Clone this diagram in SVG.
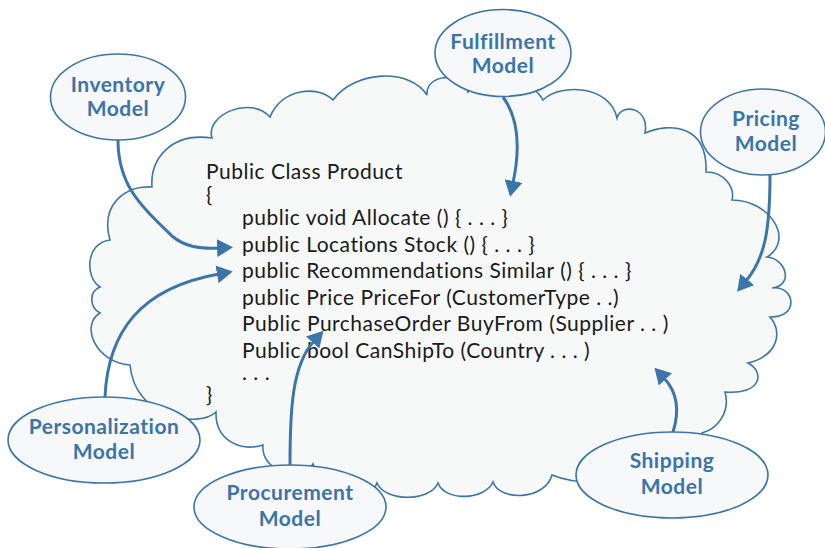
<svg xmlns="http://www.w3.org/2000/svg" width="825" height="548" viewBox="0 0 825 548">
<defs>
<style>
.cloud{fill:#f7f9f9;stroke:#3b75a9;stroke-width:1.6}
.node ellipse{fill:#f6f8f9;stroke:#3b75a9;stroke-width:1.6}
.lbl{font-family:Lato,"Noto Sans",sans-serif;font-weight:bold;font-size:21px;letter-spacing:0.5px;fill:#3a74a8;text-anchor:middle}
.code{font-family:Lato,"Noto Sans",sans-serif;font-size:21px;letter-spacing:0.5px;fill:#1a1a1a}
.conn path{fill:none;stroke:#3b75a9;stroke-width:3}
</style>
<marker id="ah" markerUnits="userSpaceOnUse" viewBox="0 0 16 18" markerWidth="16" markerHeight="18" refX="2" refY="9" orient="auto">
<path d="M0,0 L16,9 L0,18 z" fill="#3b75a9"/>
</marker>
</defs>
<rect width="825" height="548" fill="#ffffff"/>
<path class="cloud" d="M152,187 C150,160 170,132 212,138 C205,115 250,95 270,117 C282,88 318,85 333,100 C355,70 410,68 427,95 C425,75 460,70 468,92 C480,75 530,75 543,100 C560,83 610,85 617,118 C622,102 650,108 645,133 C670,122 708,125 706,172 C725,172 735,188 732,200 C770,200 795,240 767,257 C785,258 795,285 772,288 C795,285 800,318 770,317 C782,330 780,355 748,363 C765,372 762,395 725,392 C730,410 720,428 702,433 C690,470 600,495 552,475 C545,500 500,502 493,482 C485,500 445,502 438,483 C430,502 385,502 377,483 C370,505 320,490 313,464 C300,485 260,470 263,445 C240,452 215,440 216,412 C200,428 135,420 130,365 C95,362 80,325 100,313 C90,308 88,292 100,287 C85,278 85,243 110,240 C100,205 125,185 152,187 Z"/>
<g id="code">
<text class="code" x="206" y="179">Public Class Product</text>
<text class="code" x="206" y="202">{</text>
<text class="code" x="242" y="225">public void Allocate () { . . . }</text>
<text class="code" x="242" y="251.5">public Locations Stock () { . . . }</text>
<text class="code" x="242" y="278">public Recommendations Similar () { . . . }</text>
<text class="code" x="242" y="304.5">public Price PriceFor (CustomerType . .)</text>
<text class="code" x="242" y="331">Public PurchaseOrder BuyFrom (Supplier . . )</text>
<text class="code" x="242" y="357.5">Public bool CanShipTo (Country . . . )</text>
<text class="code" x="242" y="380">. . .</text>
<text class="code" x="206" y="402">}</text>
</g>
<g class="conn" id="connectors">
<path marker-end="url(#ah)" d="M118,140 C118,185 140,205 172,236 C185,247 200,249 219,248"/>
<path marker-end="url(#ah)" d="M105,397 C108,332 140,288 219,274"/>
<path marker-end="url(#ah)" d="M290,465 C290,410 292,365 314,341"/>
<path marker-end="url(#ah)" d="M503,97 C520,120 520,150 513,183"/>
<path marker-end="url(#ah)" d="M770,175 C770,230 765,258 746,281"/>
<path marker-end="url(#ah)" d="M673,432 C680,410 677,392 664,378"/>
</g>
<g class="node" id="inventory">
<ellipse cx="118" cy="97" rx="67.5" ry="43"/>
<text class="lbl" x="118" y="92">Inventory</text>
<text class="lbl" x="118" y="116">Model</text>
</g>
<g class="node" id="fulfillment">
<ellipse cx="503" cy="53" rx="68" ry="43.5"/>
<text class="lbl" x="503" y="49">Fulfillment</text>
<text class="lbl" x="503" y="73">Model</text>
</g>
<g class="node" id="pricing">
<ellipse cx="763" cy="132" rx="62.5" ry="43"/>
<text class="lbl" x="766" y="126">Pricing</text>
<text class="lbl" x="766" y="151">Model</text>
</g>
<g class="node" id="personalization">
<ellipse cx="104" cy="440" rx="96" ry="43"/>
<text class="lbl" x="104" y="434">Personalization</text>
<text class="lbl" x="104" y="459">Model</text>
</g>
<g class="node" id="procurement">
<ellipse cx="290" cy="507" rx="96" ry="42"/>
<text class="lbl" x="290" y="500">Procurement</text>
<text class="lbl" x="290" y="526">Model</text>
</g>
<g class="node" id="shipping">
<ellipse cx="672" cy="475" rx="96" ry="43"/>
<text class="lbl" x="672" y="468">Shipping</text>
<text class="lbl" x="672" y="494">Model</text>
</g>
</svg>
